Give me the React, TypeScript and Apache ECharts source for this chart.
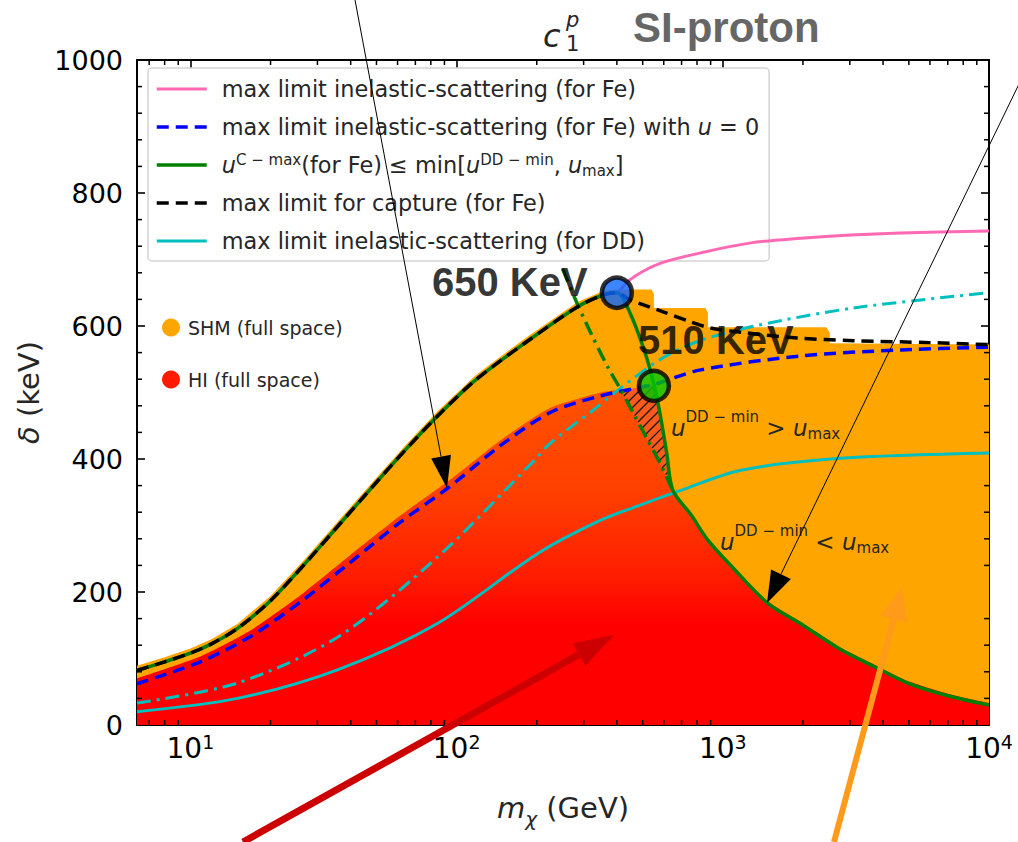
import { useEffect, useRef } from 'react';
import * as echarts from 'echarts';

// Axis ranges
const massRange = [6.3, 10000]; // m_chi (GeV), log scale
const deltaRange = [0, 1000]; // delta (keV)
const deltaStep = 200;
const massMinorTicks = [7, 8, 9, 20, 30, 40, 50, 60, 70, 80, 90, 200, 300, 400, 500, 600, 700, 800, 900, 2000, 3000, 4000, 5000, 6000, 7000, 8000, 9000];
const deltaMinorTicks = [40, 80, 120, 160, 240, 280, 320, 360, 440, 480, 520, 560, 640, 680, 720, 760, 840, 880, 920, 960];

// Rising branch shared by the Fe curves (capture, inelastic, C-max), [GeV, keV]
const feRisingBranch = [[6.3, 82], [8, 95], [10, 108], [12, 122], [15, 145], [20, 187], [27, 243], [36, 300], [48, 357], [64, 413], [85, 465], [118, 519], [180, 574], [285, 629], [357, 647], [400, 650]];
// Branches after the turning point
const feInelasticTail = [[440, 667], [500, 682], [600, 696], [826, 710], [1274, 725], [1963, 732], [3027, 737], [4668, 740], [10000, 743]];
const feCaptureTail = [[450, 639], [600, 621], [760, 606], [900, 597], [1200, 590], [1900, 582], [3100, 578], [6000, 575], [10000, 572]];
const feCmaxTail = [[451, 617], [514, 556], [551, 512], [580, 470], [615, 410], [649, 353], [760, 316], [879, 278], [1100, 235], [1476, 183], [2000, 150], [2780, 113], [3700, 88], [4954, 63], [7000, 44], [10000, 30]];
// Inelastic limit for Fe with u = 0
const feInelasticU0 = [[6.3, 62], [10.9, 95], [16.8, 133], [25.9, 185], [40, 245], [61.5, 305], [92.5, 356], [146, 420], [225, 470], [348, 495], [492, 508], [551, 512], [826, 534], [1963, 555], [4668, 564], [10000, 568]];
// u^DD-min = u_max boundary
const ddMinBoundary = [[250, 686], [285, 632], [325, 583], [370, 538], [414, 504], [464, 467], [520, 430], [582, 393], [649, 353]];
// Inelastic limits for DD
const ddInelastic = [[6.3, 20], [15, 40], [35.7, 83], [85, 153], [202, 258], [348, 308], [492, 331], [655, 349], [1170, 383], [2780, 401], [10000, 409]];
const ddInelasticAlt = [[6.3, 33], [15, 63], [35.7, 132], [85, 253], [196, 398], [225, 424], [327, 474], [414, 507], [600, 553], [834, 579], [1355, 601], [3080, 627], [10000, 650]];
// Upper edges of the allowed regions
const shmEdge = [[6.3, 89], [8, 102], [10, 115], [12, 129], [15, 152], [20, 194], [27, 250], [36, 307], [48, 364], [64, 420], [85, 472], [118, 526], [180, 581], [285, 636], [357, 653], [400, 655], [540, 655], [551, 648], [551, 627], [860, 627], [879, 620], [879, 598], [2450, 598], [2523, 590], [2523, 574], [10000, 572]];
const hiEdge = [[6.3, 70], [10.9, 103], [16.8, 142], [25.9, 195], [40, 256], [61.5, 315], [92.5, 366], [146, 428], [225, 477], [348, 500], [414, 504], [464, 467], [520, 430], [582, 393], [649, 353], [760, 318], [879, 280], [1100, 237], [1476, 186], [2000, 153], [2780, 116], [3700, 91], [4954, 66], [7000, 47], [10000, 33]];
// Region where u^DD-min > u_max
const hatchOutline = [[414, 503], [492, 508], [551, 512], [580, 470], [615, 410], [649, 353], [582, 393], [520, 430], [464, 467]];
// Marked splitting points
const turningPoints = [
  { name: '650 KeV', value: [400, 650], color: '#0a66ff' },
  { name: '510 KeV', value: [551, 510], color: '#00c800' },
];

const FONT = 'DejaVu Sans';
const NAMES = {
  pink: 'max limit inelastic-scattering (for Fe)',
  blue: 'max limit inelastic-scattering (for Fe) with u = 0',
  green: 'u C-max (for Fe) <= min[u DD-min, u max]',
  black: 'max limit for capture (for Fe)',
  cyan: 'max limit inelastic-scattering (for DD)',
  shm: 'SHM (full space)',
  hi: 'HI (full space)',
};
const legendRich: Record<string, string> = {
  [NAMES.blue]: 'max limit inelastic-scattering (for Fe) with {i|u} = 0',
  [NAMES.green]: '{i|u}{sup|C − max}(for Fe) ≤ min[{i|u}{sup|DD − min}, {i|u}{sub|max}]',
};

function lineSeries(name: string, data: number[][], color: string, width: number, type: any, z: number) {
  return {
    name, type: 'line', data, z, smooth: 0.3, symbol: 'none', showSymbol: false, silent: true,
    itemStyle: { color },
    lineStyle: { color, width, type },
  };
}

function hatchItem(params: any, api: any) {
  const pts = hatchOutline.map((p) => api.coord(p));
  const children: any[] = [{ type: 'polygon', shape: { points: pts }, style: { fill: '#ff5a1c' } }];
  const sums = pts.map((p: number[]) => p[0] + p[1]);
  const lo = Math.min(...sums);
  const hi = Math.max(...sums);
  for (let c = Math.ceil(lo / 10) * 10; c <= hi; c += 10) {
    const cuts: number[][] = [];
    for (let i = 0; i < pts.length; i++) {
      const a = pts[i];
      const b = pts[(i + 1) % pts.length];
      const fa = a[0] + a[1] - c;
      const fb = b[0] + b[1] - c;
      if ((fa < 0) !== (fb < 0)) {
        const t = fa / (fa - fb);
        cuts.push([a[0] + t * (b[0] - a[0]), a[1] + t * (b[1] - a[1])]);
      }
    }
    cuts.sort((p, q) => p[0] - q[0]);
    for (let k = 0; k + 1 < cuts.length; k += 2) {
      children.push({ type: 'line', shape: { x1: cuts[k][0], y1: cuts[k][1], x2: cuts[k + 1][0], y2: cuts[k + 1][1] }, style: { stroke: '#1a1a1a', lineWidth: 1.3 } });
    }
  }
  return { type: 'group', children };
}

const tickStyle = { stroke: '#000', lineWidth: 1.5 };

// Minor ticks of the log mass axis, bottom and top
function massTickItem(params: any, api: any) {
  const v = api.value(0);
  const b = api.coord([v, deltaRange[0]]);
  const t = api.coord([v, deltaRange[1]]);
  return {
    type: 'group',
    children: [
      { type: 'line', shape: { x1: b[0], y1: b[1], x2: b[0], y2: b[1] - 5 }, style: tickStyle },
      { type: 'line', shape: { x1: t[0], y1: t[1], x2: t[0], y2: t[1] + 5 }, style: tickStyle },
    ],
  };
}

// Minor ticks of the delta axis, left and right
function deltaTickItem(params: any, api: any) {
  const v = api.value(1);
  const l = api.coord([massRange[0], v]);
  const r = api.coord([massRange[1], v]);
  return {
    type: 'group',
    children: [
      { type: 'line', shape: { x1: l[0], y1: l[1], x2: l[0] + 5, y2: l[1] }, style: tickStyle },
      { type: 'line', shape: { x1: r[0], y1: r[1], x2: r[0] - 5, y2: r[1] }, style: tickStyle },
    ],
  };
}

function arrowHead(tip: number[], from: number[], len: number, half: number) {
  const dx = tip[0] - from[0];
  const dy = tip[1] - from[1];
  const d = Math.hypot(dx, dy);
  const ux = dx / d;
  const uy = dy / d;
  const bx = tip[0] - ux * len;
  const by = tip[1] - uy * len;
  return { base: [bx, by], points: [tip, [bx - uy * half, by + ux * half], [bx + uy * half, by - ux * half]] };
}

function arrow(from: number[], tip: number[], color: string, width: number, len: number, half: number) {
  const h = arrowHead(tip, from, len, half);
  return [
    { type: 'line', z: 100, silent: true, shape: { x1: from[0], y1: from[1], x2: h.base[0], y2: h.base[1] }, style: { stroke: color, lineWidth: width } },
    { type: 'polygon', z: 100, silent: true, shape: { points: h.points }, style: { fill: color } },
  ];
}

const axisFrame = {
  axisLine: { show: true, onZero: false, lineStyle: { color: '#000', width: 2 } },
  axisTick: { show: true, inside: true, length: 8, lineStyle: { color: '#000', width: 1.6 } },
  splitLine: { show: false },
};

const supRich = { fontFamily: FONT, fontSize: 15, verticalAlign: 'top', lineHeight: 15 };
const subRich = { fontFamily: FONT, fontSize: 15, verticalAlign: 'bottom', lineHeight: 15 };

const noteRich = {
  u: { fontFamily: FONT, fontStyle: 'italic', fontSize: 23, fill: '#262626', lineHeight: 30, verticalAlign: 'bottom' },
  op: { fontFamily: FONT, fontSize: 23, fill: '#262626', lineHeight: 30, verticalAlign: 'bottom' },
  sup: { fontFamily: FONT, fontSize: 15, fill: '#262626', verticalAlign: 'top', lineHeight: 16 },
  sub: { fontFamily: FONT, fontSize: 15, fill: '#262626', verticalAlign: 'bottom', lineHeight: 16, padding: [0, 0, -2, 0] },
};

const option: any = {
  animation: false,
  backgroundColor: '#fff',
  grid: { left: 137, right: 29, top: 60, bottom: 117 },
  xAxis: [
    {
      type: 'log', logBase: 10, min: massRange[0], max: massRange[1], position: 'bottom',
      ...axisFrame,
      name: '{i|m}{sub|χ} (GeV)', nameLocation: 'middle', nameGap: 68,
      nameTextStyle: {
        fontFamily: FONT, fontSize: 29, color: '#262626',
        rich: { i: { fontFamily: FONT, fontSize: 29, fontStyle: 'italic', color: '#262626' }, sub: { fontFamily: FONT, fontSize: 20, fontStyle: 'italic', verticalAlign: 'bottom', color: '#262626', padding: [0, 0, -7, 0] } },
      },
      axisLabel: {
        margin: 7,
        formatter: (v: number) => {
          const lg = Math.log10(v);
          const n = Math.round(lg);
          return Math.abs(lg - n) < 1e-6 ? `{b|10}{s|${n}}` : '';
        },
        rich: {
          b: { fontFamily: FONT, fontSize: 28, color: '#000' },
          s: { fontFamily: FONT, fontSize: 19, color: '#000', padding: [0, 0, 14, 0] },
        },
      },
    },
    {
      type: 'log', logBase: 10, min: massRange[0], max: massRange[1], position: 'top',
      ...axisFrame, axisLabel: { show: false },
    },
  ],
  yAxis: [
    {
      type: 'value', min: deltaRange[0], max: deltaRange[1], interval: deltaStep, position: 'left',
      ...axisFrame,
      axisLabel: { fontFamily: FONT, fontSize: 27, color: '#000', margin: 14, formatter: (v: number) => String(v) },
      name: '{i|δ} (keV)', nameLocation: 'middle', nameGap: 88, nameRotate: 90,
      nameTextStyle: { fontFamily: FONT, fontSize: 29, color: '#262626', rich: { i: { fontFamily: FONT, fontSize: 29, fontStyle: 'italic', color: '#262626' } } },
    },
    {
      type: 'value', min: deltaRange[0], max: deltaRange[1], interval: deltaStep, position: 'right',
      ...axisFrame,
      axisLabel: { show: false },
    },
  ],
  legend: [
    {
      data: [NAMES.pink, NAMES.blue, NAMES.green, NAMES.black, NAMES.cyan],
      orient: 'vertical', left: 148, top: 68,
      itemWidth: 50, itemHeight: 14, itemGap: 12,
      padding: [8, 10, 7, 7],
      backgroundColor: 'rgba(255,255,255,0.85)', borderColor: '#d4d4d4', borderWidth: 1.5, borderRadius: 4,
      selectedMode: false,
      itemStyle: { opacity: 0 },
      lineStyle: { width: 'inherit' },
      formatter: (name: string) => legendRich[name] || name,
      textStyle: {
        fontFamily: FONT, fontSize: 22.4, color: '#262626', lineHeight: 26, padding: [0, 0, 0, 10],
        rich: { i: { fontFamily: FONT, fontSize: 22.4, fontStyle: 'italic', color: '#262626' }, sup: supRich, sub: subRich },
      },
    },
    {
      data: [NAMES.shm, NAMES.hi],
      orient: 'vertical', left: 157, top: 313,
      icon: 'circle', itemWidth: 18, itemHeight: 18, itemGap: 33,
      selectedMode: false,
      itemStyle: { borderWidth: 0 },
      textStyle: { fontFamily: FONT, fontSize: 19, color: '#262626', padding: [0, 0, 0, 3] },
    },
  ],
  series: [
    {
      name: NAMES.shm, type: 'line', data: shmEdge, z: 1, symbol: 'none', silent: true,
      itemStyle: { color: '#ffa500' }, lineStyle: { width: 0, opacity: 0 },
      areaStyle: { color: '#ffa500', opacity: 1 },
    },
    {
      name: NAMES.hi, type: 'line', data: hiEdge, z: 2, smooth: 0.2, symbol: 'none', silent: true,
      itemStyle: { color: '#ff1a00' }, lineStyle: { width: 0, opacity: 0 },
      areaStyle: {
        opacity: 1,
        color: new echarts.graphic.LinearGradient(0, 0, 0, 1, [
          { offset: 0, color: '#ff5200' },
          { offset: 0.3, color: '#ff4000' },
          { offset: 0.55, color: '#ff1e00' },
          { offset: 0.7, color: '#ff0000' },
          { offset: 1, color: '#ff0000' },
        ]),
      },
    },
    { name: 'hatch', type: 'custom', z: 3, silent: true, data: [[400, 500]], renderItem: hatchItem },
    lineSeries(NAMES.cyan, ddInelastic, '#00bfbf', 3, 'solid', 4),
    lineSeries('dd-alt', ddInelasticAlt, '#00bfbf', 3, [14, 6, 3, 6], 4),
    lineSeries(NAMES.blue, feInelasticU0, '#0000ff', 3.5, [12, 7], 5),
    lineSeries(NAMES.pink, [...feRisingBranch, ...feInelasticTail], '#ff69b4', 3, 'solid', 5),
    lineSeries(NAMES.green, [...feRisingBranch, ...feCmaxTail], '#008000', 3.5, 'solid', 6),
    lineSeries('dd-min', ddMinBoundary, '#008000', 3.5, [14, 6, 3, 6], 6),
    lineSeries(NAMES.black, [...feRisingBranch, ...feCaptureTail], '#000000', 3.5, [12, 7], 7),
    {
      name: 'turning', type: 'scatter', z: 10, silent: true,
      symbolSize: 30,
      data: turningPoints.map((p, i) => ({
        name: p.name, value: p.value,
        itemStyle: { color: p.color, borderColor: '#000', borderWidth: 4.5 },
        label: i === 0
          ? { show: true, position: 'left', distance: 12, offset: [0, -11] }
          : { show: true, position: 'top', distance: 4, offset: [62, -5] },
      })),
      label: { formatter: '{b}', fontFamily: 'Liberation Sans', fontWeight: 'bold', fontSize: 40, color: '#000' },
    },
    {
      name: 'mass-ticks', type: 'custom', z: 20, silent: true, clip: false,
      data: massMinorTicks.map((v) => [v, deltaRange[0]]), renderItem: massTickItem,
    },
    {
      name: 'delta-ticks', type: 'custom', z: 20, silent: true, clip: false,
      data: deltaMinorTicks.map((v) => [massRange[0], v]), renderItem: deltaTickItem,
    },
  ],
  graphic: [
    { type: 'text', z: 100, x: 633, y: 6, style: { text: 'SI-proton', font: 'bold 42px "Liberation Sans"', fill: '#666', verticalAlign: 'top', textVerticalAlign: 'top' } },
    { type: 'text', z: 100, x: 543, y: 36, style: { text: 'c', font: 'italic 32px "DejaVu Sans"', fill: '#262626', verticalAlign: 'middle', textVerticalAlign: 'middle' } },
    { type: 'text', z: 100, x: 566, y: 20, style: { text: 'p', font: 'italic 21px "DejaVu Sans"', fill: '#262626', verticalAlign: 'middle', textVerticalAlign: 'middle' } },
    { type: 'text', z: 100, x: 566, y: 44, style: { text: '1', font: '21px "DejaVu Sans"', fill: '#262626', verticalAlign: 'middle', textVerticalAlign: 'middle' } },
    { type: 'text', z: 100, x: 671, y: 409, style: { text: '{u|u}{sup|DD − min}{op| > }{u|u}{sub|max}', fill: '#262626', verticalAlign: 'top', textVerticalAlign: 'top', rich: noteRich } },
    { type: 'text', z: 100, x: 720, y: 523, style: { text: '{u|u}{sup|DD − min}{op| < }{u|u}{sub|max}', fill: '#262626', verticalAlign: 'top', textVerticalAlign: 'top', rich: noteRich } },
    ...arrow([355, 0], [447, 488], '#000', 1, 32, 10),
    ...arrow([1020, 82], [767, 603], '#000', 1, 32, 11),
    ...arrow([243, 842], [614, 635], '#cc0000', 7, 40, 13),
    ...arrow([834, 842], [902, 588], '#ff9a1a', 6, 32, 14),
  ],
};

export default function App() {
  const ref = useRef<HTMLDivElement>(null);
  useEffect(() => {
    document.body.style.margin = '0';
    const chart = echarts.init(ref.current as HTMLDivElement, null, { renderer: 'svg' });
    chart.setOption(option);
    return () => chart.dispose();
  }, []);
  return <div ref={ref} style={{ width: 1018, height: 842 }} />;
}
